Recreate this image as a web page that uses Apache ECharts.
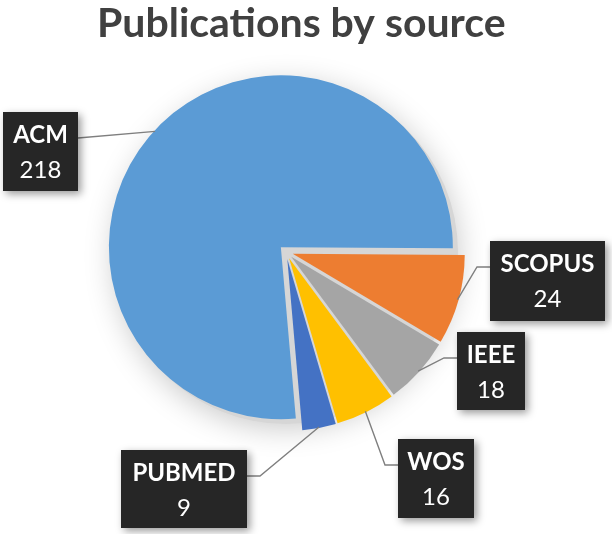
<!DOCTYPE html>
<html>
<head>
<meta charset="utf-8">
<script src="https://cdn.jsdelivr.net/npm/echarts@6/dist/echarts.min.js"></script>
<style>
html,body{margin:0;padding:0;background:#fff;}
#chart{width:612px;height:534px;}
</style>
</head>
<body>
<div id="chart"></div>
<script>
// ---- data ----
const titleText = 'Publications by source';
const categories = ['ACM', 'SCOPUS', 'IEEE', 'WOS', 'PUBMED'];
const values = [218, 24, 18, 16, 9];

// ---- styles / layout (not data) ----
const colors = ['#5b9bd5', '#ed7d31', '#a5a5a5', '#ffc000', '#4472c4'];
const pieCenter = [286, 252];
const pieRadius = 172;
const explode = 7;
// label boxes: [left, top, width, height]
const labelBoxes = [[3, 112, 75, 79], [490, 241, 115, 80], [457, 332, 68, 78], [398, 439, 76, 79], [121, 450, 126, 78]];
const elbowLen = [0, 13, 13, 13, 13];

const chart = echarts.init(document.getElementById('chart'), null, {renderer: 'canvas'});
const pieData = categories.map((c, i) => ({
  name: c,
  value: values[i],
  selected: true,
  itemStyle: {color: colors[i]}
}));

chart.setOption({
  animation: false,
  title: {
    text: titleText,
    left: 92,
    top: -2,
    textStyle: {fontFamily: 'Lato', fontWeight: 'bold', fontSize: 41, color: '#404040'}
  },
  series: [{
    type: 'pie',
    silent: true,
    center: pieCenter,
    radius: pieRadius,
    label: {show: false},
    labelLine: {show: false},
    emphasis: {disabled: true},
    itemStyle: {
      color: '#d6d6d6',
      shadowBlur: 30,
      shadowOffsetY: 4,
      shadowColor: 'rgba(0,0,0,0.22)'
    },
    data: [{value: 1, name: 'bg'}]
  }, {
    type: 'pie',
    center: pieCenter,
    radius: pieRadius,
    startAngle: -85,
    clockwise: true,
    selectedMode: 'multiple',
    selectedOffset: explode,
    avoidLabelOverlap: false,
    itemStyle: {borderWidth: 0},
    emphasis: {disabled: true},
    label: {show: false},
    labelLine: {show: false},
    data: pieData
  }]
});

// Build label boxes and leader lines from the library's own pie layout
const seriesData = chart.getModel().getSeriesByIndex(1).getData();
const graphics = [];
categories.forEach((name, i) => {
  const L = seriesData.getItemLayout(i);
  const mid = (L.startAngle + L.endAngle) / 2;
  const R = L.r + explode - 1;
  const ax = L.cx + R * Math.cos(mid);
  const ay = L.cy + R * Math.sin(mid);
  const b = labelBoxes[i];
  const boxCx = b[0] + b[2] / 2;
  const attachY = b[1] + 26;
  let attachX, elbowX;
  if (boxCx < ax) { attachX = b[0] + b[2]; elbowX = attachX + elbowLen[i]; }
  else { attachX = b[0]; elbowX = attachX - elbowLen[i]; }
  graphics.push({
    type: 'polyline', z: 10,
    shape: {points: [[ax, ay], [elbowX, attachY], [attachX, attachY]]},
    style: {stroke: '#7f7f7f', lineWidth: 1.4, fill: null}
  });
  graphics.push({
    type: 'rect', z: 11,
    shape: {x: b[0], y: b[1], width: b[2], height: b[3]},
    style: {fill: '#262626', shadowBlur: 8, shadowOffsetX: 3, shadowOffsetY: 3, shadowColor: 'rgba(0,0,0,0.4)'}
  });
  graphics.push({
    type: 'text', z: 12,
    style: {text: name, x: boxCx, y: b[1] + 23, align: 'center', verticalAlign: 'middle',
            fill: '#ffffff', font: 'bold 24px Lato'}
  });
  graphics.push({
    type: 'text', z: 12,
    style: {text: String(values[i]), x: boxCx, y: b[1] + 58, align: 'center', verticalAlign: 'middle',
            fill: '#ffffff', font: 'normal 24px Lato'}
  });
});
chart.setOption({graphic: graphics});
</script>
</body>
</html>
